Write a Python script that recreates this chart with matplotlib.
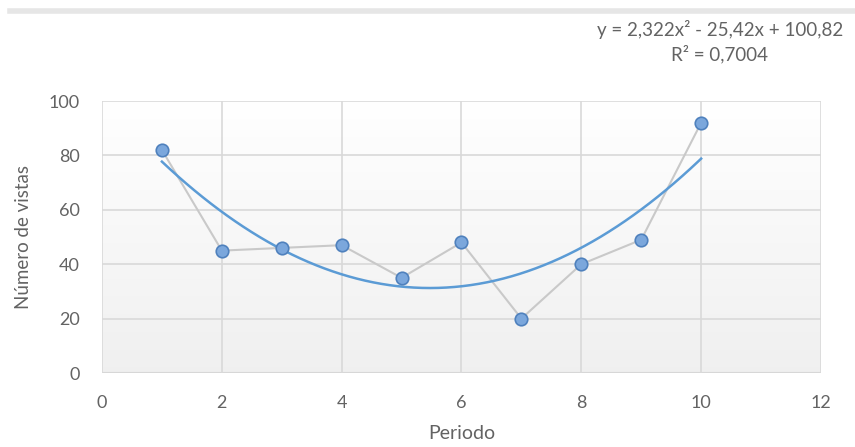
import numpy as np
import matplotlib.pyplot as plt

plt.rcParams['font.family'] = ['Lato', 'DejaVu Sans']

# Datos: número de vistas por periodo
periodo = [1, 2, 3, 4, 5, 6, 7, 8, 9, 10]
vistas = [82, 45, 46, 47, 35, 48, 20, 40, 49, 92]

# Coeficientes de la línea de tendencia polinómica (grado 2)
coef = [2.322, -25.42, 100.82]
r2 = 0.7004

fig = plt.figure(figsize=(8.55, 4.47), dpi=100)
ax = fig.add_axes([0.1193, 0.1655, 0.8409, 0.6085])

# fondo degradado del área de trazado
grad = np.linspace(0.94, 1.0, 256).reshape(-1, 1)
ax.imshow(np.dstack([grad, grad, grad]), extent=[0, 12, 0, 100], aspect='auto',
          origin='lower', zorder=0)

ax.set_xlim(0, 12)
ax.set_ylim(0, 100)
ax.set_xticks(range(0, 13, 2))
ax.set_yticks(range(0, 101, 20))
ax.grid(True, color='#d9d9d9', linewidth=1.2, zorder=1)
for s in ax.spines.values():
    s.set_visible(False)
ax.axhline(0, color='#d0d0d0', linewidth=1.5, zorder=1)
ax.tick_params(length=0, labelsize=13, colors='#636363')
ax.tick_params(axis='x', pad=16)
ax.tick_params(axis='y', pad=16)

ax.plot(periodo, vistas, color='#c9c9c9', linewidth=1.5, zorder=2)

xt = np.linspace(1, 10, 200)
ax.plot(xt, np.polyval(coef, xt), color='#5b9bd5', linewidth=1.8, zorder=3)

ax.plot(periodo, vistas, linestyle='none', marker='o', markersize=9,
        markerfacecolor='#7ba7dc', markeredgecolor='#4f81bd', markeredgewidth=1.2,
        zorder=4)

ax.set_xlabel('Periodo', fontsize=14, color='#636363', labelpad=10)
ax.set_ylabel('Número de vistas', fontsize=13.5, color='#636363', labelpad=12)

eq = 'y = {:.3f}x² - {:.2f}x + {:.2f}\nR² = {:.4f}'.format(
    coef[0], -coef[1], coef[2], r2).replace('.', ',')
fig.text(0.842, 0.907, eq, ha='center', va='center', multialignment='center',
         fontsize=13.5, color='#636363', linespacing=1.35)

# línea superior gris
fig.add_artist(plt.Line2D([0.012, 1.0], [0.975, 0.975], color='#e6e6e6',
                          linewidth=4, transform=fig.transFigure))

fig.savefig('out.png', dpi=100)
